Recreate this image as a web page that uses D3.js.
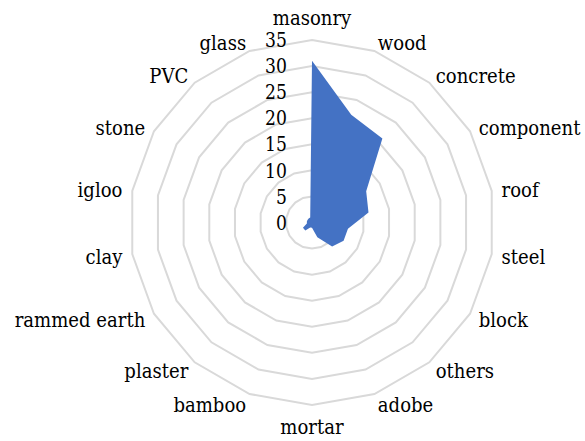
<!DOCTYPE html>
<html>
<head>
<meta charset="utf-8">
<script src="https://cdn.jsdelivr.net/npm/d3@7"></script>
<style>
  html, body { margin: 0; padding: 0; background: #fff; }
</style>
</head>
<body>
<div id="chart"></div>
<script>
// categories clockwise from the top
const categories = ['masonry', 'wood', 'concrete', 'component', 'roof', 'steel', 'block', 'others',
  'adobe', 'mortar', 'bamboo', 'plaster', 'rammed earth', 'clay', 'igloo', 'stone', 'PVC', 'glass'];
const values = [31, 22, 21, 12, 11, 7, 7, 6, 3, 1, 1, 2, 2, 1, 1, 1, 1, 1];
const ticks = [0, 5, 10, 15, 20, 25, 30, 35];

const width = 585;
const height = 441;
const cx = 312;
const cy = 222.5;
const outer = 182.5;
// only serif face available here is DejaVu, squeeze it a bit to look like Times
const font = "'DejaVu Serif', serif";
const squeeze = 0.86;

const svg = d3.select('#chart').append('svg')
  .attr('width', width)
  .attr('height', height)
  .attr('viewBox', [0, 0, width, height])
  .style('display', 'block')
  .style('font-family', font);

const r = d3.scaleLinear().domain([0, 35]).range([0, outer]);
const angle = d3.scalePoint()
  .domain(categories)
  .range([0, 2 * Math.PI * (categories.length - 1) / categories.length]);

const g = svg.append('g').attr('transform', `translate(${cx},${cy})`);

// grid rings
const ring = d3.lineRadial()
  .angle((d) => angle(d))
  .curve(d3.curveLinearClosed);

g.append('g')
  .attr('class', 'grid')
  .selectAll('path')
  .data(ticks.filter((t) => t > 0))
  .join('path')
  .attr('d', (t) => ring.radius(r(t))(categories))
  .attr('fill', 'none')
  .attr('stroke', '#d9d9d9')
  .attr('stroke-width', 2);

// data area
const area = d3.lineRadial()
  .angle((d, i) => angle(categories[i]))
  .radius((d) => r(d))
  .curve(d3.curveLinearClosed);

g.append('path')
  .datum(values)
  .attr('d', area)
  .attr('fill', '#4472c4');

// tick labels
g.append('g')
  .attr('class', 'ticks')
  .selectAll('text')
  .data(ticks)
  .join('text')
  .attr('transform', (t) => `translate(-25,${-r(t)}) scale(${squeeze},1)`)
  .attr('dy', '0.36em')
  .attr('text-anchor', 'end')
  .attr('font-family', font)
  .attr('font-size', 20)
  .attr('fill', '#000')
  .text((t) => t);

// category labels
const pad = 10;
g.append('g')
  .attr('class', 'labels')
  .selectAll('text')
  .data(categories)
  .join('text')
  .each(function (d) {
    const a = angle(d);
    const s = Math.sin(a);
    const c = Math.cos(a);
    const x = s * (outer + pad);
    let y = -c * (outer + pad);
    let anchor = 'middle';
    if (s > 0.01) anchor = 'start';
    else if (s < -0.01) anchor = 'end';
    if (Math.abs(s) < 0.01) y += c > 0 ? -12 : 12;
    else y += 1;
    d3.select(this)
      .attr('transform', `translate(${x},${y}) scale(${squeeze},1)`)
      .attr('dy', '0.35em')
      .attr('text-anchor', anchor);
  })
  .attr('font-family', font)
  .attr('font-size', 21)
  .attr('fill', '#000')
  .text((d) => d);
</script>
</body>
</html>
